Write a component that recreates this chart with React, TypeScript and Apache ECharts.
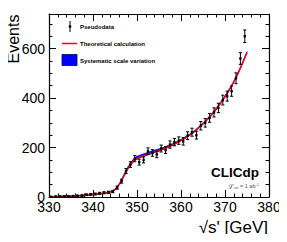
import React, { useEffect, useRef } from "react";
import * as echarts from "echarts";

const theoryX = [330,331,332,333,334,335,336,337,338,339,340,341,342,343,344,345,346,347,348,349,350,351,352,353,354,355,356,357,358,359,360,361,362,363,364,365,366,367,368,369,370,371,372,373,374,375];
const theoryY = [0,1,2,2,3,3,4,5,6,8,10,12,14,17,21,30,52,85,118,142,156,164,170,176,182,188,195,202,210,219,229,240,252,265,280,296,314,334,356,380,406,434,466,502,542,585];
const bandLow = [0,0,1,1,2,2,3,4,5,7,9,11,13,16,20,28,50,82,115,139,153,161,167,173,179,185,192,199,207,216,226,237,249,262,277,293,311,331,353,377,403,431,463,499,539,582];
const bandHigh = [1,2,3,3,4,4,5,6,7,9,11,13,15,18,22,32,56,90,124,150,165,172,178,184,190,195,201,208,215,224,233,244,255,268,283,299,317,337,359,383,409,437,469,505,545,588];

const dataX = [330.5,331.5,332.5,333.5,334.5,335.5,336.5,337.5,338.5,339.5,340.5,341.5,342.5,343.5,344.5,345.5,346.5,347.5,348.5,349.5,350.5,351.5,352.5,353.5,354.5,355.5,356.5,357.5,358.5,359.5,360.5,361.5,362.5,363.5,364.5,365.5,366.5,367.5,368.5,369.5,370.5,371.5,372.5,373.5,374.5];
const dataY = [1,2,2,3,3,4,5,6,9,11,12,15,17,19,22,38,64,105,131,155,141,150,185,178,172,196,190,212,222,228,225,248,262,250,288,300,320,342,360,392,408,428,480,560,650];
const dataErr = [1,1.4,1.4,1.7,1.7,2,2.2,2.4,3,3.3,3.5,3.9,4.1,4.4,4.7,6.2,8,10.2,11.4,12.4,11.9,12.2,13.6,13.3,13.1,14,13.8,14.6,14.9,15.1,15,15.7,16.2,15.8,17,17.3,17.9,18.5,19,19.8,20.2,20.7,21.9,23.7,25.5];

const xTicks = [330, 340, 350, 360, 370, 380];
const yTicks = [0, 200, 400, 600];

const FONT = "Liberation Sans, Arial, Helvetica, sans-serif";

export default function App() {
  const ref = useRef<HTMLDivElement>(null);
  useEffect(() => {
    if (!ref.current) return;
    const chart = echarts.init(ref.current, undefined, { renderer: "svg" });
    const pairs = (xs: number[], ys: number[]) => xs.map((x, i) => [x, ys[i]]);
    const bandSegs = theoryX.slice(0, -1).map((x, i) => [x, bandLow[i], bandHigh[i], theoryX[i + 1], bandLow[i + 1], bandHigh[i + 1]]);
    const baseX = {
      type: "value",
      min: xTicks[0],
      max: xTicks[xTicks.length - 1],
      interval: 10,
      splitLine: { show: false },
      axisLine: { show: true, onZero: false, lineStyle: { color: "#000", width: 1.2 } },
      axisTick: { show: true, inside: true, length: 7, lineStyle: { color: "#000" } },
      minorTick: { show: true, splitNumber: 5, length: 3.5, lineStyle: { color: "#000" } },
    };
    const baseY = {
      type: "value",
      min: 0,
      max: 740,
      splitLine: { show: false },
      axisLine: { show: true, onZero: false, lineStyle: { color: "#000", width: 1.2 } },
      axisTick: { show: true, inside: true, length: 7, lineStyle: { color: "#000" } },
    };
    chart.setOption({
      animation: false,
      grid: { left: 49, right: 18, top: 14, bottom: 45 },
      xAxis: [
        {
          ...baseX,
          position: "bottom",
          axisLabel: { fontSize: 14, color: "#000", fontFamily: FONT, margin: 3 },
        },
        { ...baseX, position: "top", axisLabel: { show: false } },
      ],
      yAxis: [
        {
          ...baseY,
          position: "left",
          interval: 200,
          axisLabel: {
            fontSize: 14,
            color: "#000",
            fontFamily: FONT,
            margin: 4,
            formatter: (v: number) => (yTicks.indexOf(v) >= 0 ? String(v) : ""),
          },
        },
        {
          ...baseY,
          position: "left",
          interval: 50,
          axisLine: { show: false },
          axisTick: { show: true, inside: true, length: 3.5, lineStyle: { color: "#000" } },
          axisLabel: { show: false },
        },
        { ...baseY, position: "right", interval: 200, axisLabel: { show: false } },
        {
          ...baseY,
          position: "right",
          interval: 50,
          axisLine: { show: false },
          axisTick: { show: true, inside: true, length: 3.5, lineStyle: { color: "#000" } },
          axisLabel: { show: false },
        },
      ],
      series: [
        {
          type: "custom",
          data: bandSegs,
          z: 2,
          silent: true,
          renderItem: (params: any, api: any) => {
            const a = api.coord([api.value(0), api.value(1)]);
            const b = api.coord([api.value(3), api.value(4)]);
            const c = api.coord([api.value(3), api.value(5)]);
            const d = api.coord([api.value(0), api.value(2)]);
            return {
              type: "polygon",
              shape: { points: [a, b, c, d] },
              style: { fill: "#0000ff", stroke: "#0000ff", lineWidth: 0.5 },
            };
          },
        },
        {
          type: "line",
          data: pairs(theoryX, theoryY),
          symbol: "none",
          smooth: 0.3,
          lineStyle: { color: "#ff0000", width: 1.5 },
          z: 3,
        },
        {
          type: "custom",
          data: dataX.map((x, i) => [x, dataY[i], dataErr[i]]),
          z: 4,
          renderItem: (params: any, api: any) => {
            const x = api.value(0);
            const y = api.value(1);
            const e = api.value(2);
            const top = api.coord([x, y + e]);
            const bot = api.coord([x, Math.max(0, y - e)]);
            const mid = api.coord([x, y]);
            const w = 1.6;
            const st = { stroke: "#000", lineWidth: 1 };
            return {
              type: "group",
              children: [
                { type: "line", shape: { x1: top[0], y1: top[1], x2: bot[0], y2: bot[1] }, style: st },
                { type: "line", shape: { x1: top[0] - w, y1: top[1], x2: top[0] + w, y2: top[1] }, style: st },
                { type: "line", shape: { x1: bot[0] - w, y1: bot[1], x2: bot[0] + w, y2: bot[1] }, style: st },
                { type: "rect", shape: { x: mid[0] - 1.2, y: mid[1] - 1.2, width: 2.4, height: 2.4 }, style: { fill: "#000" } },
              ],
            };
          },
        },
      ],
      graphic: [
        {
          type: "text",
          x: 13,
          y: 39,
          rotation: Math.PI / 2,
          style: { text: "Events", fontSize: 16, fontFamily: FONT, fill: "#000", align: "center", verticalAlign: "middle" },
        },
        {
          type: "text",
          x: 268,
          y: 227,
          style: { text: "√s' [GeV]", fontSize: 17, fontFamily: FONT, fill: "#000", align: "right", verticalAlign: "middle" },
        },
        { type: "line", shape: { x1: 70, y1: 21, x2: 70, y2: 32 }, style: { stroke: "#000", lineWidth: 1 } },
        { type: "rect", shape: { x: 68.8, y: 25.3, width: 2.4, height: 2.4 }, style: { fill: "#000" } },
        {
          type: "text",
          x: 80,
          y: 26.5,
          style: { text: "Pseudodata", fontSize: 6, fontWeight: "bold", fontFamily: FONT, fill: "#000", verticalAlign: "middle" },
        },
        { type: "line", shape: { x1: 62, y1: 43.5, x2: 77, y2: 43.5 }, style: { stroke: "#ff0000", lineWidth: 1.5 } },
        {
          type: "text",
          x: 80,
          y: 43.5,
          style: { text: "Theoretical calculation", fontSize: 6, fontWeight: "bold", fontFamily: FONT, fill: "#000", verticalAlign: "middle" },
        },
        { type: "rect", shape: { x: 62, y: 54.5, width: 15, height: 11 }, style: { fill: "#0000ff", stroke: "#000066", lineWidth: 0.8 } },
        {
          type: "text",
          x: 80,
          y: 60.5,
          style: { text: "Systematic scale variation", fontSize: 6, fontWeight: "bold", fontFamily: FONT, fill: "#000", verticalAlign: "middle" },
        },
        {
          type: "text",
          x: 259,
          y: 172,
          style: { text: "CLICdp", fontSize: 13.5, fontWeight: "bold", fontFamily: FONT, fill: "#000", align: "right", verticalAlign: "middle" },
        },
        {
          type: "text",
          x: 259,
          y: 186,
          style: {
            text: "{l|ℒ}{s|int}{n| = 1 ab}{p|-1}",
            align: "right",
            verticalAlign: "middle",
            fontFamily: FONT,
            fill: "#555",
            rich: {
              l: { fontSize: 7, fill: "#555", fontFamily: FONT },
              s: { fontSize: 4, fill: "#555", fontFamily: FONT, padding: [3, 0, 0, 0] },
              n: { fontSize: 5.5, fill: "#555", fontFamily: FONT },
              p: { fontSize: 4, fill: "#555", fontFamily: FONT, padding: [0, 0, 4, 0] },
            },
          },
        },
      ],
    });
    return () => chart.dispose();
  }, []);
  return <div ref={ref} style={{ width: 287, height: 242, margin: -8 }} />;
}
